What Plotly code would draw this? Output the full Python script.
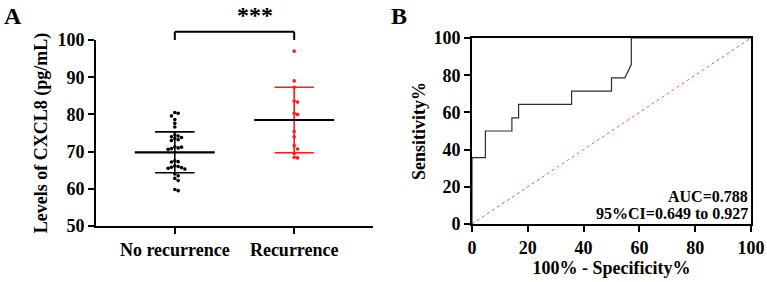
import numpy as np
import plotly.graph_objects as go

# ---------------- data ----------------
categories = ["No recurrence", "Recurrence"]
no_recurrence = [80.5, 80.3, 79.6, 78.6, 77.6, 76.6,
                 74.5, 74.0, 73.8, 73.5, 73.2, 74.2, 73.0,
                 71.2, 71.0, 70.8, 71.3, 70.6,
                 67.5, 67.3, 67.2,
                 66.0, 65.8, 65.5, 65.7, 66.2, 65.3,
                 64.0, 63.5, 62.8, 62.2, 59.8, 59.5]
recurrence = [97.0, 89.0, 87.3, 83.6, 83.3, 80.3, 80.0, 75.4, 74.0,
              71.6, 70.7, 69.5, 68.5, 68.3]
group_means = [69.8, 78.5]
group_sd = [5.5, 8.8]
significance = "***"

roc_fpr = [0, 0, 4.8, 4.8, 14.3, 14.3, 16.7, 16.7, 35.7, 35.7, 50.0, 50.0, 54.8, 57.1, 57.1, 100]
roc_tpr = [0, 35.7, 35.7, 50.0, 50.0, 57.1, 57.1, 64.3, 64.3, 71.4, 71.4, 78.6, 78.6, 85.7, 100, 100]
auc_text = "AUC=0.788"
ci_text = "95%CI=0.649 to 0.927"

# ---------------- layout constants ----------------
W, H = 767, 282
FONT = "Liberation Serif"
xdomA = [96 / W, 373 / W]
ydomA = [1 - 226 / H, 1 - 40 / H]
xdomB = [472 / W, 751 / W]
ydomB = [1 - 224 / H, 1 - 38 / H]
xrA = [-0.66, 1.66]
yrA = [50, 100]


def beeswarm(vals, xc, xscale=119.0, yscale=3.72, mind=3.4, step=0.028):
    placed = []
    xs = [None] * len(vals)
    order = np.argsort(vals)[::-1]
    for i in order:
        v = vals[i]
        k = 0
        while True:
            offs = [0.0] if k == 0 else [k * step, -k * step]
            ok_off = None
            for o in offs:
                good = True
                for (px, py) in placed:
                    dx = (o - px) * xscale
                    dy = (v - py) * yscale
                    if dx * dx + dy * dy < mind * mind:
                        good = False
                        break
                if good:
                    ok_off = o
                    break
            if ok_off is not None:
                placed.append((ok_off, v))
                xs[i] = xc + ok_off
                break
            k += 1
    return xs


fig = go.Figure()

colors = ["black", "#ff1a1a"]
groups = [no_recurrence, recurrence]
for gi, vals in enumerate(groups):
    xs = beeswarm(vals, gi)
    fig.add_trace(go.Scatter(x=xs, y=vals, mode="markers",
                             marker=dict(size=3.6, color=colors[gi]),
                             xaxis="x", yaxis="y", showlegend=False, hoverinfo="y"))
    m, s = group_means[gi], group_sd[gi]
    fig.add_trace(go.Scatter(
        x=[gi, gi, None, gi - 0.165, gi + 0.165, None, gi - 0.165, gi + 0.165],
        y=[m - s, m + s, None, m + s, m + s, None, m - s, m - s],
        mode="lines", line=dict(color=colors[gi], width=1.6),
        xaxis="x", yaxis="y", showlegend=False, hoverinfo="skip"))
    fig.add_trace(go.Scatter(
        x=[gi - 0.335, gi + 0.335], y=[m, m], mode="lines",
        line=dict(color="black", width=2.2),
        xaxis="x", yaxis="y", showlegend=False, hoverinfo="skip"))

# ROC
fig.add_trace(go.Scatter(x=[0, 100], y=[0, 100], mode="lines",
                         line=dict(color="rgba(240,60,60,0.85)", width=1, dash="dot"),
                         xaxis="x2", yaxis="y2", showlegend=False, hoverinfo="skip"))
fig.add_trace(go.Scatter(x=roc_fpr, y=roc_tpr, mode="lines",
                         line=dict(color="#2e2e2e", width=1.2),
                         xaxis="x2", yaxis="y2", showlegend=False))

FS = 18
tickfont = dict(family=FONT, size=FS, color="black", weight="bold")
titlefont = dict(family=FONT, size=FS, color="black", weight="bold")
common = dict(showline=True, linecolor="black", linewidth=2, ticks="outside",
              ticklen=6, tickwidth=1.5, tickcolor="black", showgrid=False,
              zeroline=False, automargin=False, tickfont=tickfont)

fig.update_layout(
    width=W, height=H, margin=dict(l=0, r=0, t=0, b=0, autoexpand=False),
    paper_bgcolor="white", plot_bgcolor="white",
    xaxis=dict(domain=xdomA, range=xrA, tickvals=[0, 1], ticktext=categories,
               anchor="y", **common),
    yaxis=dict(domain=ydomA, range=yrA, dtick=10, anchor="x", **common,
               title=dict(text="Levels of CXCL8 (pg/mL)", font=titlefont, standoff=5)),
    xaxis2=dict(domain=xdomB, range=[0, 100], dtick=20, mirror=True, anchor="y2", **common,
                title=dict(text="100% - Specificity%", font=titlefont, standoff=4)),
    yaxis2=dict(domain=ydomB, range=[0, 100], dtick=20, mirror=True, anchor="x2", **common,
                title=dict(text="Sensitivity%", font=titlefont, standoff=3)),
)


def px_x(v):
    return xdomA[0] + (v - xrA[0]) / (xrA[1] - xrA[0]) * (xdomA[1] - xdomA[0])


def px_y(v):
    return ydomA[0] + (v - yrA[0]) / (yrA[1] - yrA[0]) * (ydomA[1] - ydomA[0])


# significance bracket
yb = px_y(102.2)
yt = px_y(100)
x0b, x1b = px_x(0), px_x(1)
for (a, b, c, d) in [(x0b, x1b, yb, yb), (x0b, x0b, yb, yt), (x1b, x1b, yb, yt)]:
    fig.add_shape(type="line", xref="paper", yref="paper", x0=a, x1=b, y0=c, y1=d,
                  line=dict(color="black", width=2))
fig.add_annotation(xref="paper", yref="paper", x=(x0b + x1b) / 2, y=yb + 2 / H,
                   text=significance, showarrow=False, yanchor="bottom",
                   font=dict(family=FONT, size=24, color="black", weight="bold"))

# AUC annotations
fig.add_annotation(xref="x2", yref="y2", x=99.5, y=15, text=auc_text, showarrow=False,
                   xanchor="right", yanchor="middle",
                   font=dict(family=FONT, size=16, color="black", weight="bold"))
fig.add_annotation(xref="x2", yref="y2", x=99.5, y=5.7, text=ci_text, showarrow=False,
                   xanchor="right", yanchor="middle",
                   font=dict(family=FONT, size=16, color="black", weight="bold"))

# panel letters
fig.add_annotation(xref="paper", yref="paper", x=2 / W, y=1 - 1 / H, text="A",
                   showarrow=False, xanchor="left", yanchor="top",
                   font=dict(family=FONT, size=24, color="black", weight="bold"))
fig.add_annotation(xref="paper", yref="paper", x=389 / W, y=1 - 1 / H, text="B",
                   showarrow=False, xanchor="left", yanchor="top",
                   font=dict(family=FONT, size=24, color="black", weight="bold"))

fig.write_html("out.html")
